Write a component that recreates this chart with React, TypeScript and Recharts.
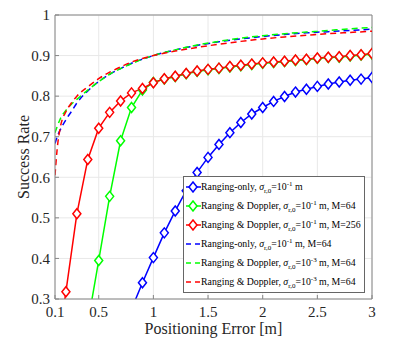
import React from 'react';
import { LineChart, Line, XAxis, YAxis, CartesianGrid, ReferenceLine } from 'recharts';

// x grid of the marked (solid) curves
const xs = [
  0.1, 0.2, 0.3, 0.4, 0.5, 0.6, 0.7, 0.8, 0.9, 1.0,
  1.1, 1.2, 1.3, 1.4, 1.5, 1.6, 1.7, 1.8, 1.9, 2.0,
  2.1, 2.2, 2.3, 2.4, 2.5, 2.6, 2.7, 2.8, 2.9, 3.0,
];

const rangingOnly = [
  null, null, null, null, null, null, null, 0.275, 0.34, 0.402,
  0.463, 0.517, 0.567, 0.612, 0.649, 0.681, 0.71, 0.735, 0.756, 0.772,
  0.787, 0.799, 0.81, 0.817, 0.824, 0.83, 0.835, 0.839, 0.842, 0.846,
];

const dopplerM64 = [
  null, null, null, 0.24, 0.395, 0.553, 0.69, 0.772, 0.815, 0.834,
  0.842, 0.848, 0.855, 0.861, 0.865, 0.868, 0.872, 0.875, 0.878, 0.881,
  0.883, 0.885, 0.888, 0.89, 0.893, 0.895, 0.896, 0.899, 0.901, 0.904,
];

const dopplerM256 = [
  0.13, 0.318, 0.51, 0.644, 0.721, 0.76, 0.788, 0.808, 0.819, 0.833,
  0.843, 0.849, 0.856, 0.862, 0.866, 0.869, 0.873, 0.876, 0.879, 0.882,
  0.884, 0.886, 0.889, 0.891, 0.894, 0.896, 0.897, 0.9, 0.902, 0.905,
];

// x grid of the dashed curves (denser near the start)
const dashX = [
  0.1, 0.12, 0.15, 0.2, 0.25, 0.3, 0.4, 0.5, 0.6, 0.7, 0.8, 0.9,
  1.0, 1.2, 1.4, 1.6, 1.8, 2.0, 2.2, 2.4, 2.6, 2.8, 3.0,
];

const rangingOnlyM64 = [
  0.683, 0.7, 0.718, 0.742, 0.762, 0.783, 0.813, 0.836, 0.854, 0.868, 0.881, 0.891,
  0.9, 0.914, 0.925, 0.934, 0.941, 0.947, 0.952, 0.956, 0.959, 0.962, 0.965,
];

const dopplerFineM64 = [
  0.71, 0.725, 0.745, 0.765, 0.78, 0.792, 0.815, 0.836, 0.854, 0.868, 0.88, 0.891,
  0.9, 0.914, 0.926, 0.935, 0.943, 0.949, 0.954, 0.958, 0.962, 0.966, 0.969,
];

const dopplerFineM64b = [
  0.605, 0.67, 0.725, 0.762, 0.783, 0.8, 0.823, 0.843, 0.859, 0.872, 0.884, 0.893,
  0.9, 0.911, 0.92, 0.928, 0.935, 0.941, 0.946, 0.95, 0.954, 0.957, 0.96,
];

const xTicks = [0.1, 0.5, 1, 1.5, 2, 2.5, 3];
const yTicks = [0.3, 0.4, 0.5, 0.6, 0.7, 0.8, 0.9, 1];

const toRows = (x: number[], y: (number | null)[]) => x.map((v, i) => ({ x: v, y: y[i] }));

type Series = {
  key: string;
  rows: { x: number; y: number | null }[];
  color: string;
  dashed: boolean;
  label: [string, string, string]; // prefix, exponent, suffix
};

const series: Series[] = [
  { key: 'a', rows: toRows(xs, rangingOnly), color: '#0000ff', dashed: false, label: ['Ranging-only, ', '-1', ' m'] },
  { key: 'b', rows: toRows(xs, dopplerM64), color: '#00ff00', dashed: false, label: ['Ranging & Doppler, ', '-1', ' m, M=64'] },
  { key: 'c', rows: toRows(xs, dopplerM256), color: '#ff0000', dashed: false, label: ['Ranging & Doppler, ', '-1', ' m, M=256'] },
  { key: 'd', rows: toRows(dashX, rangingOnlyM64), color: '#0000ff', dashed: true, label: ['Ranging-only, ', '-1', ' m, M=64'] },
  { key: 'e', rows: toRows(dashX, dopplerFineM64), color: '#00ff00', dashed: true, label: ['Ranging & Doppler, ', '-3', ' m, M=64'] },
  { key: 'f', rows: toRows(dashX, dopplerFineM64b), color: '#ff0000', dashed: true, label: ['Ranging & Doppler, ', '-3', ' m, M=64'] },
];

const FONT = "'Liberation Serif', 'Times New Roman', Times, serif";
const AXIS = '#868686';

const diamond = (color: string) => (props: any) => {
  const { cx, cy, index } = props;
  if (cx == null || cy == null || props.value == null) return <g key={`d-${index}`} />;
  return (
    <path
      key={`d-${index}`}
      d={`M${cx},${cy - 5}L${cx + 4},${cy}L${cx},${cy + 5}L${cx - 4},${cy}Z`}
      fill="#fff"
      stroke={color}
      strokeWidth={1.5}
    />
  );
};

const LegendBox = () => (
  <div
    style={{
      position: 'absolute',
      left: 183,
      top: 176,
      width: 182,
      height: 117,
      background: '#fff',
      border: '1px solid #666',
      boxSizing: 'border-box',
      fontFamily: FONT,
      fontSize: 9.8,
      lineHeight: '12px',
      color: '#000',
      paddingTop: 1,
    }}
  >
    {series.map((s) => (
      <div key={s.key} style={{ display: 'flex', alignItems: 'center', height: 18.9, whiteSpace: 'nowrap' }}>
        <svg width={16} height={12} style={{ marginLeft: 1, flex: 'none' }}>
          {s.dashed ? (
            <>
              <line x1={1} y1={6} x2={6} y2={6} stroke={s.color} strokeWidth={1.5} />
              <line x1={10} y1={6} x2={15} y2={6} stroke={s.color} strokeWidth={1.5} />
            </>
          ) : (
            <>
              <line x1={1} y1={6} x2={16} y2={6} stroke={s.color} strokeWidth={1.5} />
              <path d="M8,1L12,6L8,11L4,6Z" fill="#fff" stroke={s.color} strokeWidth={1.5} />
            </>
          )}
        </svg>
        <span>
          {s.label[0]}
          <i>σ</i>
          <sub style={{ fontSize: 7, lineHeight: 0, verticalAlign: -3 }}>r,0</sub>=10
          <sup style={{ fontSize: 7, lineHeight: 0, verticalAlign: 4 }}>{s.label[1]}</sup>
          {s.label[2]}
        </span>
      </div>
    ))}
  </div>
);

const YTitle = (props: any) => {
  const vb = props.viewBox;
  const cx = vb.x + 29;
  const cy = vb.y + vb.height / 2;
  return (
    <text x={cx} y={cy} transform={`rotate(-90, ${cx}, ${cy})`} textAnchor="middle" style={{ fontFamily: FONT }} fontSize={16} fill="#262626">
      Success Rate
    </text>
  );
};

export default function App() {
  return (
    <div style={{ position: 'absolute', left: 0, top: 0, width: 415, height: 346, background: '#fff', fontFamily: FONT }}>
      <LineChart width={415} height={346} margin={{ top: 15, right: 43, bottom: 0, left: 0 }} style={{ fontFamily: FONT }}>
        <CartesianGrid stroke="#e8e8e8" strokeWidth={1} />
        <XAxis
          type="number"
          dataKey="x"
          domain={[0.1, 3]}
          ticks={xTicks}
          allowDataOverflow
          height={47}
          stroke={AXIS}
          tickSize={-4}
          tickMargin={11}
          tick={{ fontSize: 15, fill: '#262626', style: { fontFamily: FONT } }}
          label={{ value: 'Positioning Error [m]', position: 'insideBottom', offset: 12, fontSize: 16, fill: '#262626', style: { fontFamily: FONT } }}
        />
        <YAxis
          type="number"
          domain={[0.3, 1]}
          ticks={yTicks}
          allowDataOverflow
          width={55}
          stroke={AXIS}
          tickSize={-4}
          tickMargin={9}
          tick={{ fontSize: 15, fill: '#262626', style: { fontFamily: FONT } }}
          label={<YTitle />}
        />
        <ReferenceLine y={1} stroke={AXIS} />
        <ReferenceLine x={3} stroke={AXIS} />
        {series.map((s) => (
          <Line
            key={s.key}
            data={s.rows}
            dataKey="y"
            type={s.dashed ? 'monotone' : 'linear'}
            stroke={s.color}
            strokeWidth={1.5}
            strokeDasharray={s.dashed ? '6 4' : undefined}
            dot={s.dashed ? false : diamond(s.color)}
            activeDot={false}
            isAnimationActive={false}
          />
        ))}
      </LineChart>
      <LegendBox />
    </div>
  );
}
